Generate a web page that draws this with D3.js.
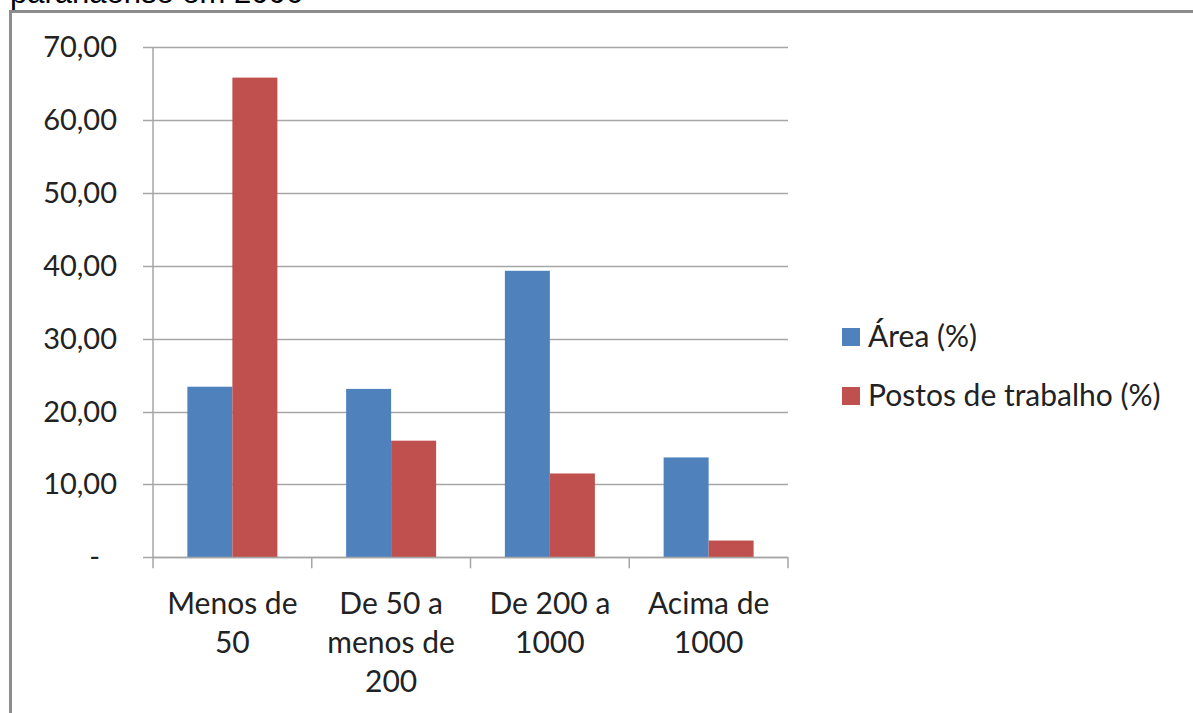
<!DOCTYPE html>
<html>
<head>
<meta charset="utf-8">
<script src="https://cdn.jsdelivr.net/npm/d3@7"></script>
<style>
  body { margin: 0; background: #fff; }
  svg { display: block; }
</style>
</head>
<body>
<div id="chart-container"></div>
<script>
var categories = [["Menos de", "50"], ["De 50 a", "menos de", "200"], ["De 200 a", "1000"], ["Acima de", "1000"]];
var seriesNames = ["Área (%)", "Postos de trabalho (%)"];
var area = [23.4, 23.1, 39.3, 13.7];
var postos = [65.8, 16.0, 11.5, 2.3];
var yTicks = [0, 10, 20, 30, 40, 50, 60, 70];
var colors = ["#4F81BD", "#C0504D"];

var width = 1193, height = 713;
var font = "Lato, 'Open Sans', sans-serif";

var svg = d3.select("#chart-container").append("svg")
    .attr("width", width)
    .attr("height", height);

// title cut off at the top of the picture
svg.append("text")
  .attr("x", 10)
  .attr("y", 3)
  .attr("font-family", "'Liberation Sans', Arial, sans-serif")
  .attr("font-size", 31)
  .attr("fill", "#000")
  .text("paranaense em 2006");

// chart frame
svg.append("rect")
  .attr("x", 10.5)
  .attr("y", 11.5)
  .attr("width", 1300)
  .attr("height", 800)
  .attr("fill", "#fff")
  .attr("stroke", "#8c8c8c")
  .attr("stroke-width", 3);

var plotLeft = 153, plotRight = 788, plotTop = 47, plotBottom = 557.3;

var x = d3.scaleBand()
    .domain(d3.range(categories.length))
    .range([plotLeft, plotRight]);

var x1 = d3.scaleBand()
    .domain([0, 1])
    .range([0, 90]);

var y = d3.scaleLinear()
    .domain([0, 70])
    .range([plotBottom, plotTop]);

// gridlines
svg.append("g")
  .selectAll("line")
  .data(yTicks)
  .enter().append("line")
  .attr("x1", plotLeft - 10)
  .attr("x2", plotRight)
  .attr("y1", function(d) { return Math.round(y(d)) + 0.5; })
  .attr("y2", function(d) { return Math.round(y(d)) + 0.5; })
  .attr("stroke", "#a6a6a6")
  .attr("stroke-width", 1.5);

// y axis line
svg.append("line")
  .attr("x1", plotLeft).attr("x2", plotLeft)
  .attr("y1", plotTop).attr("y2", plotBottom)
  .attr("stroke", "#a6a6a6")
  .attr("stroke-width", 1.5);

// y labels
svg.append("g")
  .selectAll("text")
  .data(yTicks)
  .enter().append("text")
  .attr("x", function(d) { return d === 0 ? 100 : 117; })
  .attr("y", function(d) { return y(d) + 10; })
  .attr("text-anchor", "end")
  .attr("font-family", font)
  .attr("font-size", 29)
  .attr("fill", "#222")
  .text(function(d) { return d === 0 ? "-" : d3.format(".2f")(d).replace(".", ","); });

// bars
var data = categories.map(function(c, i) { return [area[i], postos[i]]; });

var groups = svg.selectAll("g.cat")
    .data(data)
    .enter().append("g")
    .attr("class", "cat")
    .attr("transform", function(d, i) { return "translate(" + (x(i) + (x.bandwidth() - 90) / 2) + ",0)"; });

groups.selectAll("rect")
  .data(function(d) { return d; })
  .enter().append("rect")
  .attr("x", function(d, j) { return x1(j); })
  .attr("y", function(d) { return y(d); })
  .attr("width", x1.bandwidth())
  .attr("height", function(d) { return plotBottom - y(d); })
  .attr("fill", function(d, j) { return colors[j]; });

// x axis line and ticks
svg.append("line")
  .attr("x1", plotLeft).attr("x2", plotRight)
  .attr("y1", Math.round(plotBottom) + 0.5).attr("y2", Math.round(plotBottom) + 0.5)
  .attr("stroke", "#a6a6a6")
  .attr("stroke-width", 1.5);

var tickPos = d3.range(categories.length + 1).map(function(i) { return plotLeft + i * x.bandwidth(); });
svg.append("g")
  .selectAll("line")
  .data(tickPos)
  .enter().append("line")
  .attr("x1", function(d) { return d; })
  .attr("x2", function(d) { return d; })
  .attr("y1", plotBottom)
  .attr("y2", plotBottom + 11)
  .attr("stroke", "#a6a6a6")
  .attr("stroke-width", 1.5);

// category labels
var labels = svg.append("g")
  .selectAll("text")
  .data(categories)
  .enter().append("text")
  .attr("text-anchor", "middle")
  .attr("font-family", font)
  .attr("font-size", 30)
  .attr("fill", "#222");

labels.selectAll("tspan")
  .data(function(d, i) { return d.map(function(t) { return { t: t, i: i }; }); })
  .enter().append("tspan")
  .attr("x", function(d) { return x(d.i) + x.bandwidth() / 2; })
  .attr("y", function(d, k) { return 614 + k * 39; })
  .text(function(d) { return d.t; });

// legend
var legend = svg.selectAll("g.legend")
    .data(seriesNames)
    .enter().append("g")
    .attr("class", "legend")
    .attr("transform", function(d, i) { return "translate(842," + (328 + i * 59) + ")"; });

legend.append("rect")
  .attr("width", 18)
  .attr("height", 18)
  .attr("fill", function(d, i) { return colors[i]; });

legend.append("text")
  .attr("x", 26)
  .attr("y", 19)
  .attr("font-family", font)
  .attr("font-size", 30)
  .attr("fill", "#222")
  .text(function(d) { return d; });
</script>
</body>
</html>
